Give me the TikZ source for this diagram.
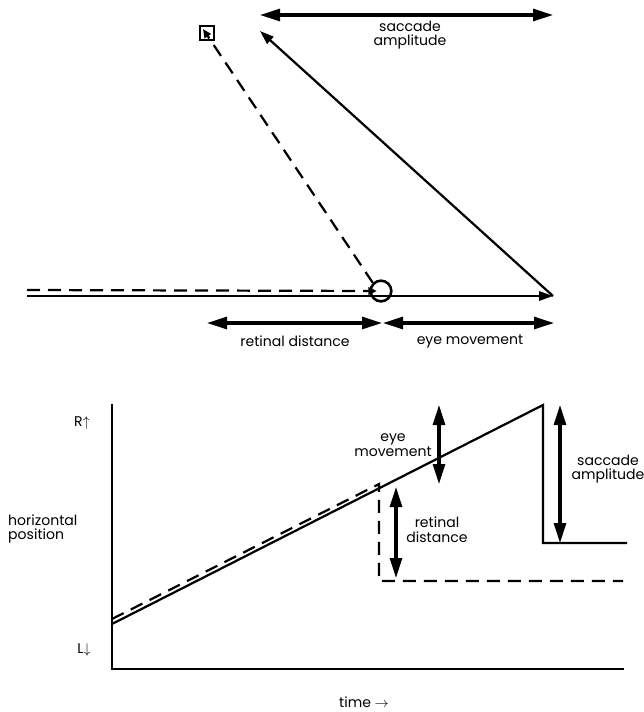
\documentclass[tikz,border=0pt]{standalone}
\usepackage{fontspec}
\setmainfont{Poppins}
\usetikzlibrary{arrows.meta}

\begin{document}
\begin{tikzpicture}[
    x=0.3mm, y=-0.3mm,
    line/.style   = {line width=1.9pt},
    dline/.style  = {line width=1.9pt, dash pattern=on 3.9mm off 2.4mm},
    headed/.style = {-{Triangle[length=4.2mm, width=2.8mm]}},
    small/.style  = {-{Triangle[length=2.6mm, width=2.2mm]}},
    span/.style   = {line width=2.6pt,
                     {Triangle[length=6mm, width=3.6mm]}-{Triangle[length=6mm, width=3.6mm]}},
    lbl/.style    = {font=\fontsize{12}{12.5}\selectfont, align=center, inner sep=0pt}
]
\useasboundingbox (0,0) rectangle (644,712);

% Target step: fixation point -> new target
\node[draw, line width=2.4pt, minimum size=4.2mm, inner sep=0pt] (target) at (207,33) {};
\node[draw, line width=2.2pt, circle, minimum size=6.2mm, inner sep=0pt] (fovea) at (381,291) {};

\coordinate (eyestart) at (27,296);
\coordinate (eyeturn)  at (553,296);
\coordinate (eyereach) at (260,31);
\coordinate (tgtstart) at (27,290);
\coordinate (tgthit)   at (377,291);
\coordinate (tgtjump)  at (203,29);

% Eye path
\draw[line, headed] (eyestart) -- (eyeturn);
\draw[line, headed] (eyeturn) -- (eyereach);

% Target path
\draw[dline, small] (tgtstart) -- (tgthit);
\draw[dline, small] (fovea.north west) -- (tgtjump);

% Spans
\coordinate (sacL) at (260,15);
\coordinate (sacR) at (553,15);
\draw[span] (sacL) -- (sacR);
\node[lbl] (saclbl) at (410,35) {saccade\\amplitude};

\coordinate (retL) at (207,323);
\coordinate (retR) at (382,323);
\coordinate (movL) at (383,323);
\coordinate (movR) at (554,323);
\draw[span] (retL) -- (retR);
\draw[span] (movL) -- (movR);
\node[lbl] (retlbl) at (295,341) {retinal distance};
\node[lbl] (movlbl) at (470,341) {eye movement};

% Time course
\coordinate (origin) at (112,669);
\draw[line] (112,404) -- (origin) -- (624,669);
\node[lbl] (rlbl) at (82,423) {R$\uparrow$};
\node[lbl] (llbl) at (84,650) {L$\downarrow$};
\node[lbl, anchor=west, align=left] (poslbl) at (8,529) {horizontal\\position};
\node[lbl] (timelbl) at (364,702) {time $\rightarrow$};

\coordinate (eye0)   at (112,624);
\coordinate (eyetop) at (543,405);
\coordinate (eyeend) at (543,543);
\draw[line] (eye0) -- (eyetop) -- (eyeend) -- (627,543);

\coordinate (tgt0)    at (112,619);
\coordinate (tgtstep) at (379,484);
\coordinate (tgtend)  at (379,581);
\draw[dline] (tgt0) -- (tgtstep) -- (tgtend) -- (623,581);

\draw[span] (439,405) -- (439,484);
\node[lbl] (moveg) at (393,445) {eye\\movement};
\draw[span] (396,487) -- (396,578);
\node[lbl] (reteg) at (437,530) {retinal\\distance};
\draw[span] (560,405) -- (560,543);
\node[lbl] (saceg) at (608,469) {saccade\\amplitude};

\end{tikzpicture}
\end{document}
